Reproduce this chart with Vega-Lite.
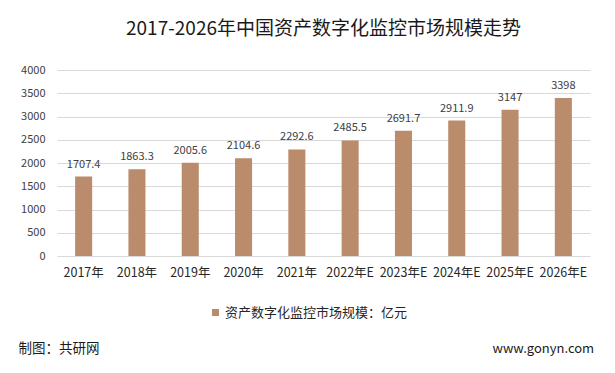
{
  "$schema": "https://vega.github.io/schema/vega-lite/v6.json",
  "width": 533,
  "height": 186,
  "autosize": {"type": "none"},
  "padding": {"left": 57, "top": 70, "right": 25, "bottom": 117},
  "background": "white",
  "config": {
    "font": "Noto Sans CJK SC",
    "view": {"stroke": null}
  },
  "title": {
    "text": "2017-2026年中国资产数字化监控市场规模走势",
    "fontSize": 19,
    "font": "Noto Sans CJK SC",
    "fontWeight": "normal",
    "color": "#1a1a1a",
    "anchor": "middle",
    "offset": 25
  },
  "data": {
    "values": [
      {"year": "2017年", "value": 1707.4, "series": "资产数字化监控市场规模：亿元"},
      {"year": "2018年", "value": 1863.3, "series": "资产数字化监控市场规模：亿元"},
      {"year": "2019年", "value": 2005.6, "series": "资产数字化监控市场规模：亿元"},
      {"year": "2020年", "value": 2104.6, "series": "资产数字化监控市场规模：亿元"},
      {"year": "2021年", "value": 2292.6, "series": "资产数字化监控市场规模：亿元"},
      {"year": "2022年E", "value": 2485.5, "series": "资产数字化监控市场规模：亿元"},
      {"year": "2023年E", "value": 2691.7, "series": "资产数字化监控市场规模：亿元"},
      {"year": "2024年E", "value": 2911.9, "series": "资产数字化监控市场规模：亿元"},
      {"year": "2025年E", "value": 3147, "series": "资产数字化监控市场规模：亿元"},
      {"year": "2026年E", "value": 3398, "series": "资产数字化监控市场规模：亿元"}
    ]
  },
  "encoding": {
    "x": {
      "field": "year",
      "type": "nominal",
      "sort": null,
      "scale": {"paddingInner": 0.68, "paddingOuter": 0.34},
      "axis": {
        "title": "制图：共研网",
        "titleX": -39,
        "titleY": 92,
        "titleAnchor": "start",
        "titleAlign": "left",
        "titleBaseline": "middle",
        "titleFontSize": 13.5,
        "titleFontWeight": "normal",
        "titleColor": "#1a1a1a",
        "labelAngle": 0,
        "labelFontSize": 12.5,
        "labelColor": "#262626",
        "labelPadding": 16,
        "labelBaseline": "middle",
        "domain": false,
        "ticks": false,
        "tickSize": 0
      }
    },
    "y": {
      "field": "value",
      "type": "quantitative",
      "scale": {"domain": [0, 4000]},
      "axis": {
        "values": [0, 500, 1000, 1500, 2000, 2500, 3000, 3500, 4000],
        "format": "d",
        "title": "www.gonyn.com",
        "titleAngle": 0,
        "titleX": 435,
        "titleY": 278,
        "titleAlign": "left",
        "titleBaseline": "middle",
        "titleFontSize": 13,
        "titleFontWeight": "normal",
        "titleColor": "#1a1a1a",
        "labelFontSize": 11,
        "labelColor": "#404040",
        "labelPadding": 12,
        "domain": false,
        "ticks": false,
        "tickSize": 0,
        "grid": true,
        "gridColor": "#d9d9d9",
        "gridWidth": 1
      }
    }
  },
  "layer": [
    {
      "mark": {"type": "bar", "color": "#BA8C6C"},
      "encoding": {
        "color": {
          "field": "series",
          "type": "nominal",
          "scale": {"range": ["#BA8C6C"]},
          "legend": {
            "title": null,
            "orient": "none",
            "legendX": 152,
            "legendY": 236,
            "symbolType": "square",
            "symbolSize": 49,
            "symbolStrokeWidth": 0,
            "labelFontSize": 13,
            "labelColor": "#262626",
            "labelOffset": 3,
            "labelLimit": 400,
            "padding": 0
          }
        }
      }
    },
    {
      "mark": {"type": "text", "dy": -12, "fontSize": 11, "color": "#404040", "baseline": "middle"},
      "encoding": {
        "text": {"field": "value", "type": "quantitative", "format": ".5~r"}
      }
    }
  ]
}
